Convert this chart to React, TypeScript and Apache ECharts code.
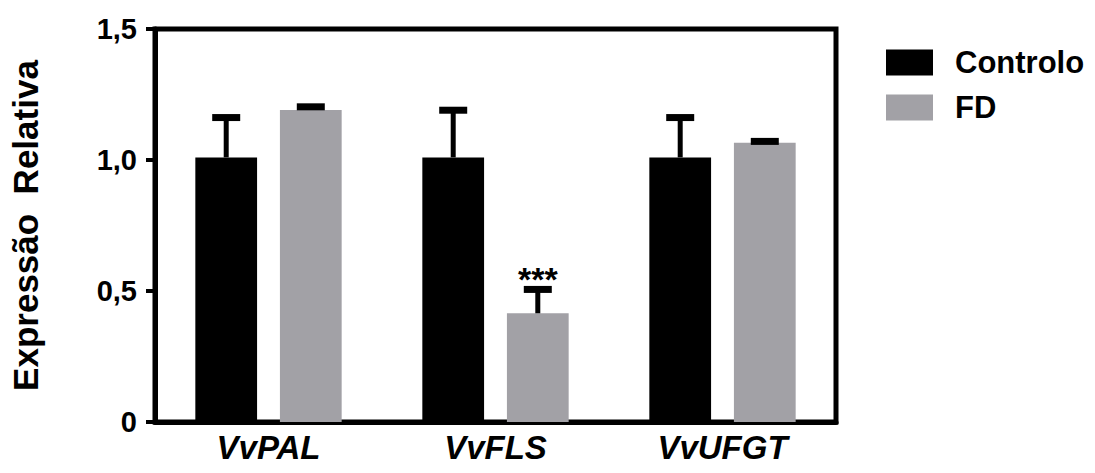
import React, { useEffect, useRef } from "react";
import * as echarts from "echarts";

const categories = ["VvPAL", "VvFLS", "VvUFGT"];
const controloValues = [1.01, 1.01, 1.01];
const controloErrors = [0.152, 0.18, 0.152];
const fdValues = [1.191, 0.415, 1.066];
const fdErrors = [0.012, 0.091, 0.005];
const fdSignificance = ["", "***", ""];
const yTicks = [0, 0.5, 1.0, 1.5];

const FONT = "'Liberation Sans', Arial, sans-serif";
const GRAY = "#a2a1a6";
const BAR_FRAC = 0.272;
const GAP_FRAC = 0.37;

function errorSeries(name: string, values: number[], errors: number[], side: number, sig: string[]) {
  return {
    type: "custom",
    name: name + "-err",
    silent: true,
    z: 5,
    data: values.map((v, i) => [i, v, errors[i]]),
    renderItem: (params: any, api: any) => {
      const idx = api.value(0);
      const v = api.value(1);
      const e = api.value(2);
      const s = sig[idx];
      const band = api.size([1, 0])[0];
      const barW = band * BAR_FRAC;
      const off = ((barW * (1 + GAP_FRAC)) / 2) * side;
      const base = api.coord([idx, v]);
      const top = api.coord([idx, v + e]);
      const x = base[0] + off;
      const children: any[] = [
        {
          type: "line",
          shape: { x1: x, y1: base[1], x2: x, y2: top[1] },
          style: { stroke: "#000", lineWidth: 5 },
        },
        {
          type: "line",
          shape: { x1: x - 14, y1: top[1], x2: x + 14, y2: top[1] },
          style: { stroke: "#000", lineWidth: 7 },
        },
      ];
      if (s) {
        children.push({
          type: "text",
          x: x,
          y: top[1] - 27,
          style: {
            text: s,
            fill: "#000",
            font: "bold 34px " + FONT,
            align: "center",
            verticalAlign: "top",
          },
        });
      }
      return { type: "group", children };
    },
  };
}

export default function App() {
  const ref = useRef<HTMLDivElement>(null);
  useEffect(() => {
    if (!ref.current) return;
    const chart = echarts.init(ref.current, undefined, { renderer: "svg" });
    chart.setOption({
      animation: false,
      backgroundColor: "#fff",
      textStyle: { fontFamily: FONT },
      grid: {
        left: 152,
        right: 259,
        top: 29,
        bottom: 51,
        show: true,
        borderColor: "#000",
        borderWidth: 5,
        backgroundColor: "transparent",
      },
      legend: {
        orient: "vertical",
        left: 886,
        top: 47,
        padding: 0,
        itemWidth: 47,
        itemHeight: 26,
        itemGap: 14,
        icon: "rect",
        data: ["Controlo", "FD"],
        textStyle: {
          fontSize: 31,
          lineHeight: 26,
          fontWeight: "bold",
          color: "#000",
          fontFamily: FONT,
          padding: [0, 0, 0, 17],
        },
      },
      xAxis: {
        type: "category",
        data: categories,
        axisLine: { lineStyle: { color: "#000", width: 5 } },
        axisTick: { alignWithLabel: true, length: 9, lineStyle: { color: "#000", width: 4 } },
        axisLabel: {
          margin: 9,
          fontSize: 33,
          fontWeight: "bold",
          fontStyle: "italic",
          color: "#000",
          fontFamily: FONT,
        },
      },
      yAxis: {
        type: "value",
        min: yTicks[0],
        max: yTicks[yTicks.length - 1],
        interval: 0.5,
        name: "Expressão  Relativa",
        nameLocation: "middle",
        nameGap: 112,
        nameTextStyle: { fontSize: 35, fontWeight: "bold", color: "#000", fontFamily: FONT },
        splitLine: { show: false },
        axisLine: { show: true, lineStyle: { color: "#000", width: 5 } },
        axisTick: { show: true, length: 9, lineStyle: { color: "#000", width: 4 } },
        axisLabel: {
          margin: 18,
          fontSize: 29,
          fontWeight: "bold",
          color: "#000",
          fontFamily: FONT,
          formatter: (v: number) => (v === 0 ? "0" : v.toFixed(1).replace(".", ",")),
        },
      },
      series: [
        {
          type: "bar",
          name: "Controlo",
          data: controloValues,
          barWidth: (BAR_FRAC * 100).toFixed(1) + "%",
          barGap: (GAP_FRAC * 100).toFixed(0) + "%",
          itemStyle: { color: "#000" },
        },
        {
          type: "bar",
          name: "FD",
          data: fdValues,
          barWidth: (BAR_FRAC * 100).toFixed(1) + "%",
          barGap: (GAP_FRAC * 100).toFixed(0) + "%",
          itemStyle: { color: GRAY },
        },
        errorSeries("Controlo", controloValues, controloErrors, -1, ["", "", ""]),
        errorSeries("FD", fdValues, fdErrors, 1, fdSignificance),
      ],
    });
    return () => chart.dispose();
  }, []);
  return <div ref={ref} style={{ width: 1095, height: 473, position: "absolute", left: 0, top: 0 }} />;
}
